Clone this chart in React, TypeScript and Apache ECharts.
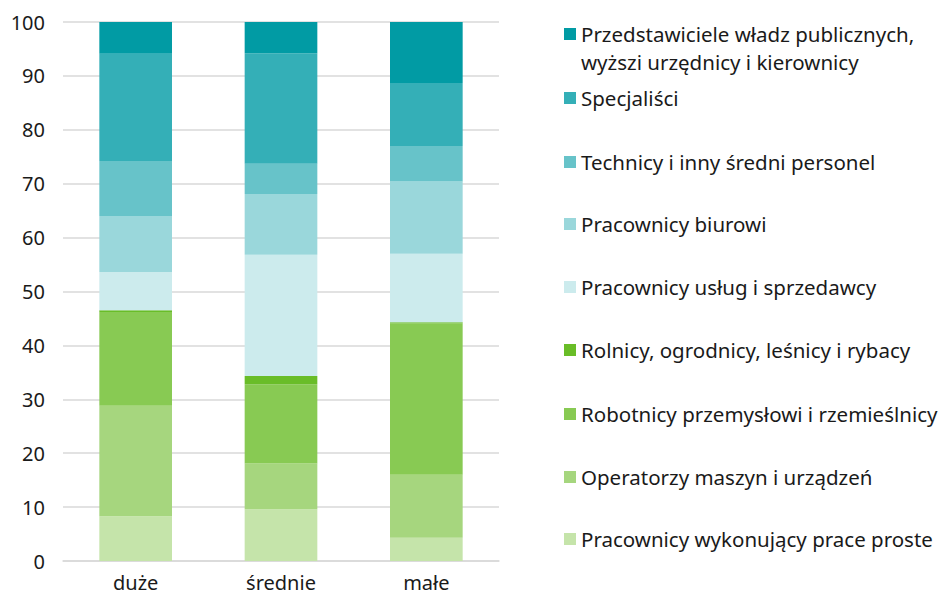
import React, { useEffect, useRef } from "react";
import * as echarts from "echarts";

const categories = ["duże", "średnie", "małe"];

const seriesNames = [
  "Pracownicy wykonujący prace proste",
  "Operatorzy maszyn i urządzeń",
  "Robotnicy przemysłowi i rzemieślnicy",
  "Rolnicy, ogrodnicy, leśnicy i rybacy",
  "Pracownicy usług i sprzedawcy",
  "Pracownicy biurowi",
  "Technicy i inny średni personel",
  "Specjaliści",
  "Przedstawiciele władz publicznych, wyższi urzędnicy i kierownicy",
];
const firstLegendText = "Przedstawiciele władz publicznych,\nwyższi urzędnicy i kierownicy";

const proste = [8.3, 9.6, 4.3];
const operatorzy = [20.5, 8.5, 11.7];
const robotnicy = [17.4, 14.7, 28.1];
const rolnicy = [0.3, 1.5, 0.2];
const uslugi = [7.1, 22.5, 12.7];
const biurowi = [10.4, 11.3, 13.4];
const technicy = [10.2, 5.6, 6.6];
const specjalisci = [19.9, 20.5, 11.7];
const przedstawiciele = [5.9, 5.8, 11.3];

const seriesValues = [
  proste,
  operatorzy,
  robotnicy,
  rolnicy,
  uslugi,
  biurowi,
  technicy,
  specjalisci,
  przedstawiciele,
];

const colors = [
  "#C5E4AA",
  "#A6D67E",
  "#88CA53",
  "#69BD28",
  "#CCEBED",
  "#9AD7DB",
  "#67C3C9",
  "#34AFB7",
  "#019BA4",
];

const yTicks = [0, 10, 20, 30, 40, 50, 60, 70, 80, 90, 100];

// legend item centers (px) per series index
const legendCenters = [539, 477, 414, 350, 287, 224, 162, 98, 34];

const FONT = "'Noto Sans', 'Open Sans', sans-serif";
const TEXT = "#1a1a1a";
const LEG_FS = 20.5;
const LH = 22;

export default function App() {
  const ref = useRef<HTMLDivElement>(null);
  useEffect(() => {
    if (!ref.current) return;
    const chart = echarts.init(ref.current, null, { renderer: "svg" });
    const legends = seriesNames.map((name, i) => ({
      show: true,
      orient: "vertical" as const,
      left: 559,
      top: legendCenters[i] - LH / 2 - 5,
      data: [name],
      icon: "rect",
      itemWidth: 12,
      itemHeight: 12,
      itemGap: 0,
      selectedMode: false,
      formatter: (n: string) => (i === 8 ? " " : n),
      textStyle: {
        fontFamily: FONT,
        fontSize: LEG_FS,
        color: TEXT,
        lineHeight: LH,
      },
    }));
    chart.setOption({
      animation: false,
      textStyle: { fontFamily: FONT },
      grid: { left: 63, right: 445, top: 22, bottom: 33, containLabel: false },
      legend: legends,
      graphic: [
        {
          type: "text",
          left: 581,
          top: 19.5,
          style: {
            text: firstLegendText,
            fontFamily: FONT,
            fontSize: LEG_FS,
            fill: TEXT,
            lineHeight: 28,
          },
        },
      ],
      xAxis: {
        type: "category",
        data: categories,
        axisLine: { show: true, lineStyle: { color: "#d9d9d9", width: 1.5 } },
        axisTick: { show: false },
        axisLabel: {
          fontFamily: FONT,
          fontSize: 20,
          color: TEXT,
          margin: 11,
        },
      },
      yAxis: {
        type: "value",
        min: yTicks[0],
        max: yTicks[yTicks.length - 1],
        interval: 10,
        axisLine: { show: false },
        axisTick: { show: false },
        splitLine: { lineStyle: { color: "#d9d9d9", width: 1.5 } },
        axisLabel: {
          fontFamily: FONT,
          fontSize: 20,
          color: TEXT,
          margin: 18,
        },
      },
      series: seriesNames.map((name, i) => ({
        name,
        type: "bar",
        stack: "total",
        barWidth: "50%",
        data: seriesValues[i],
        itemStyle: { color: colors[i] },
        emphasis: { disabled: true },
      })),
    });
    return () => chart.dispose();
  }, []);
  return (
    <div
      ref={ref}
      style={{ position: "absolute", left: 0, top: 0, width: 944, height: 594 }}
    />
  );
}
